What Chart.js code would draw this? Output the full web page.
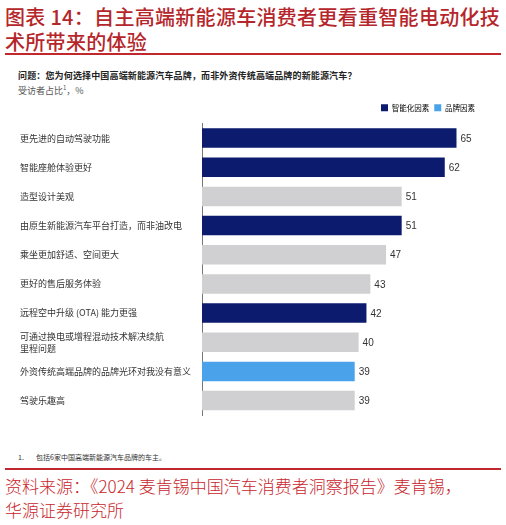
<!DOCTYPE html>
<html>
<head>
<meta charset="utf-8">
<script src="https://cdn.jsdelivr.net/npm/chart.js@4.4.1/dist/chart.umd.min.js"></script>
<style>
    html, body { margin: 0; padding: 0; background: #fff; }
    body { width: 506px; height: 525px; position: relative; overflow: hidden; font-family: "Noto Sans CJK SC", sans-serif; }
    .title { position: absolute; left: 5px; top: 4px; font-size: 20px; line-height: 25px; color: #b5262b; font-weight: 500; letter-spacing: 0.3px; white-space: nowrap; }
    .rule { position: absolute; left: 5px; width: 496px; height: 2px; background: #c0282e; }
    .question { position: absolute; left: 18px; top: 69.5px; font-size: 9px; line-height: 12px; color: #222; font-weight: 700; letter-spacing: 0.15px; white-space: nowrap; }
    .unit { position: absolute; left: 18px; top: 81.5px; font-size: 9px; line-height: 12px; color: #555; white-space: nowrap; }
    .note { position: absolute; left: 18px; top: 452px; font-size: 7px; line-height: 10px; color: #333; white-space: nowrap; }
    .note span { display: inline-block; width: 18px; }
    .source { position: absolute; left: 5px; top: 474px; font-size: 17px; line-height: 24px; color: #c8262c; font-weight: 300; white-space: nowrap; }
    #chart-wrap { position: absolute; left: 0; top: 95px; width: 506px; height: 332px; }
</style>
</head>
<body>
<div class="title">图表 14：自主高端新能源车消费者更看重智能电动化技<br>术所带来的体验</div>
<div class="rule" style="top: 53px;"></div>
<div class="question">问题：您为何选择中国高端新能源汽车品牌，而非外资传统高端品牌的新能源汽车？</div>
<div class="unit">受访者占比<sup style="font-size: 6px;">1</sup>，%</div>
<div id="chart-wrap"><canvas id="reasonChart"></canvas></div>
<div class="note"><span>1.</span>包括6家中国高端新能源汽车品牌的车主。</div>
<div class="rule" style="top: 468px;"></div>
<div class="source">资料来源：《2024 麦肯锡中国汽车消费者洞察报告》麦肯锡，<br>华源证券研究所</div>

<script>
// Chart data
const reasons = [
    '更先进的自动驾驶功能',
    '智能座舱体验更好',
    '造型设计美观',
    '由原生新能源汽车平台打造，而非油改电',
    '乘坐更加舒适、空间更大',
    '更好的售后服务体验',
    '远程空中升级 (OTA) 能力更强',
    ['可通过换电或增程混动技术解决续航', '里程问题'],
    '外资传统高端品牌的品牌光环对我没有意义',
    '驾驶乐趣高'
];
const shares = [65, 62, 51, 51, 47, 43, 42, 40, 39, 39];
// factor type per reason: smart = 智能化因素, brand = 品牌因素, other = 其他
const factorTypes = ['smart', 'smart', 'other', 'smart', 'other', 'other', 'smart', 'other', 'brand', 'other'];
const legendNames = ['智能化因素', '品牌因素'];

const factorColors = {
    smart: '#0c1b6e',
    brand: '#4aa3ea',
    other: '#d0d0d2'
};

// Value labels to the right of each bar
const valueLabels = {
    id: 'valueLabels',
    afterDatasetsDraw(chart) {
        const ctx = chart.ctx;
        const meta = chart.getDatasetMeta(0);
        ctx.save();
        ctx.font = '10px "Liberation Sans", Arial, sans-serif';
        ctx.fillStyle = '#333';
        ctx.textAlign = 'left';
        ctx.textBaseline = 'middle';
        meta.data.forEach((bar, i) => {
            ctx.fillText(shares[i], bar.x + 4, bar.y + 1);
        });
        ctx.restore();
    }
};

// Push the plot a bit further below the legend
const legendGap = {
    id: 'legendGap',
    beforeInit(chart) {
        const originalFit = chart.legend.fit;
        chart.legend.fit = function fit() {
            originalFit.bind(chart.legend)();
            this.height += 2;
        };
    }
};

document.addEventListener('DOMContentLoaded', function() {
    const ctx = document.getElementById('reasonChart');
    new Chart(ctx, {
        type: 'bar',
        data: {
            labels: reasons,
            datasets: [{
                data: shares,
                backgroundColor: factorTypes.map(t => factorColors[t]),
                borderWidth: 0,
                categoryPercentage: 1,
                barPercentage: 0.67
            }]
        },
        options: {
            indexAxis: 'y',
            responsive: true,
            maintainAspectRatio: false,
            animation: false,
            layout: {
                padding: { top: 4, right: 26, bottom: 5, left: 20 }
            },
            plugins: {
                tooltip: { enabled: false },
                legend: {
                    position: 'top',
                    align: 'end',
                    onClick: null,
                    labels: {
                        boxWidth: 7,
                        boxHeight: 7,
                        padding: 5,
                        color: '#333',
                        font: { family: '"Noto Sans CJK SC", sans-serif', size: 7.5 },
                        generateLabels: function() {
                            return [
                                { text: legendNames[0], fillStyle: factorColors.smart, strokeStyle: factorColors.smart, lineWidth: 0 },
                                { text: legendNames[1], fillStyle: factorColors.brand, strokeStyle: factorColors.brand, lineWidth: 0 }
                            ];
                        }
                    }
                }
            },
            scales: {
                x: {
                    display: false,
                    min: 0,
                    max: 71
                },
                y: {
                    grid: { display: false, drawTicks: false },
                    border: { display: true, color: '#777', width: 1 },
                    ticks: {
                        crossAlign: 'far',
                        color: '#333',
                        padding: 6,
                        font: { family: '"Noto Sans CJK SC", sans-serif', size: 9, lineHeight: 1.3 }
                    },
                    afterFit: function(scale) {
                        scale.width = 182;
                    }
                }
            }
        },
        plugins: [valueLabels, legendGap]
    });
});
</script>
</body>
</html>
